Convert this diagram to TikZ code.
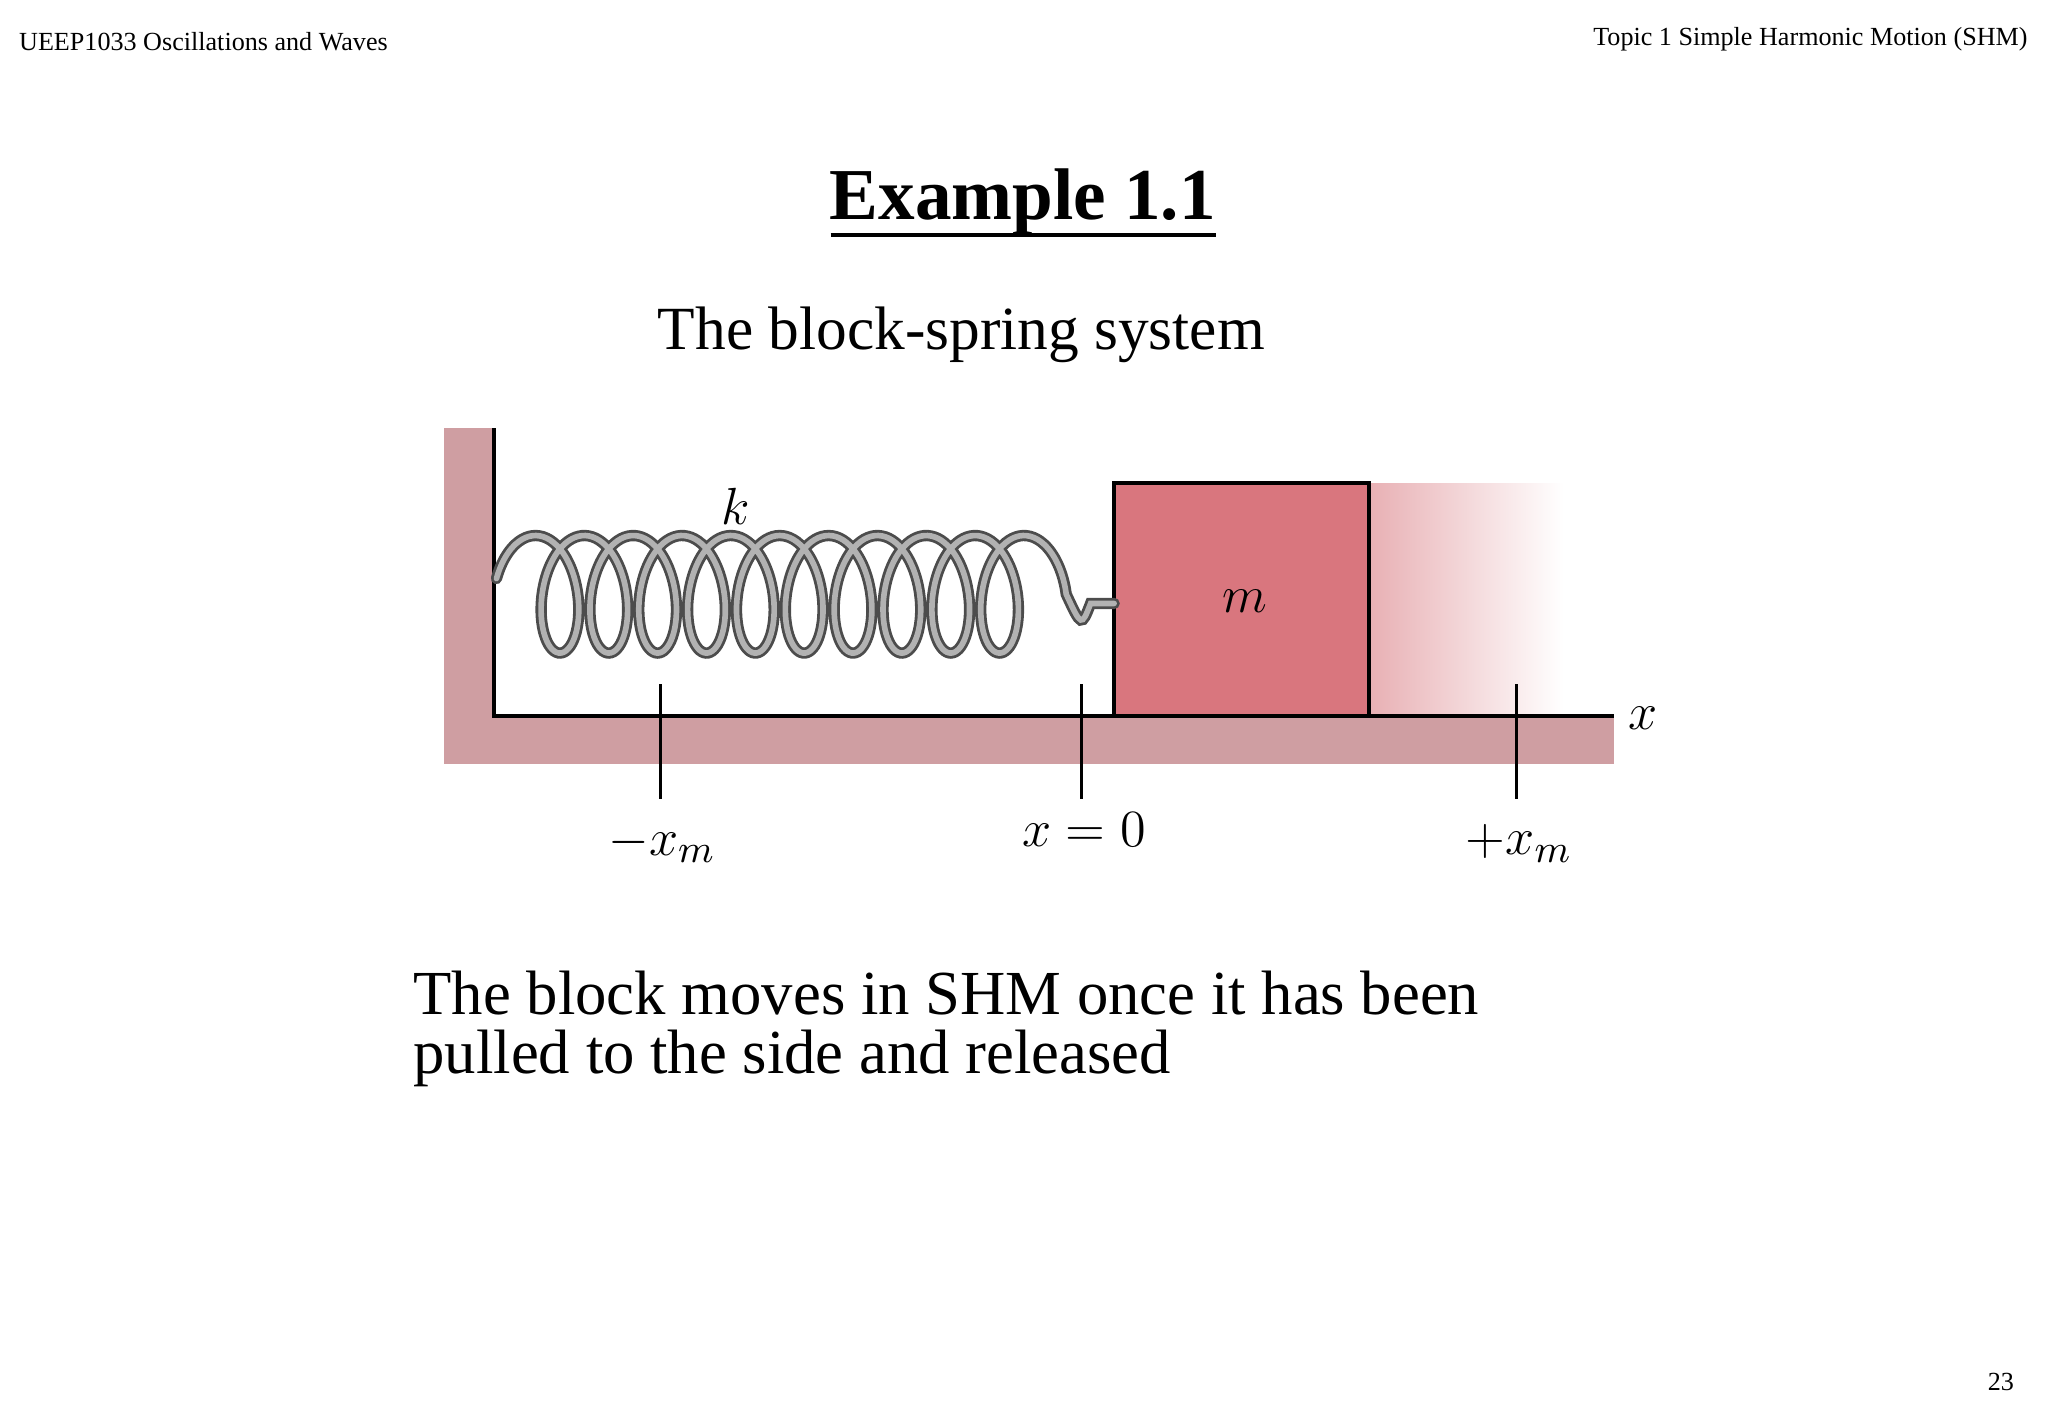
\documentclass[tikz,border=0pt]{standalone}
\usepackage{fontspec}
\setmainfont{Liberation Serif}
\definecolor{wallc}{HTML}{CF9EA2}
\definecolor{blockc}{HTML}{D9767E}
\definecolor{fadec}{HTML}{E8B0B4}
\tikzset{lbl/.style={inner sep=0pt}, tick/.style={line width=0.7pt}}
\begin{document}
\begin{tikzpicture}[x=0.3pt,y=-0.3pt]
\useasboundingbox (0,0) rectangle (1568,1085.6);
% texts
\node[lbl,anchor=west,font=\fontsize{6}{7}\selectfont] (h1) at (14,32) {UEEP1033 Oscillations and Waves};
\node[lbl,anchor=east,font=\fontsize{6}{7}\selectfont] (h2) at (1553,30) {Topic 1 Simple Harmonic Motion (SHM)};
\node[lbl,font=\fontsize{6}{7}\selectfont] (pg) at (1532,1058) {23};
\node[lbl,anchor=base,font=\fontsize{16.8}{19}\selectfont\bfseries] (title) at (783,168) {Example 1.1};
\draw[line width=0.9pt] (636,180) -- (931,180);
\node[lbl,font=\fontsize{14.1}{16}\selectfont] (sub) at (736,256) {The block-spring system};
\node[lbl,anchor=north west,align=left,font=\fontsize{14.4}{13.4}\selectfont] (body) at (316,743) {The block moves in SHM once it has been\\pulled to the side and released};
% wall & floor
\fill[wallc] (340,328) rectangle (378,585);
\fill[wallc] (340,548) rectangle (1236,585);
% fade
\shade[left color=fadec,right color=white] (1048,370) rectangle (1197,548);
\draw[line width=1pt] (378,328) -- (378,548) -- (1236,548);
% block
\node[draw,line width=1pt,fill=blockc,minimum width=58.5pt,minimum height=53.4pt,inner sep=0pt] (blk) at (950.5,459) {};
\node[lbl,font=\fontsize{12}{14}\selectfont] (m) at (953,460) {$m$};
% spring
\coordinate (hook) at (853,462);
\foreach \w/\c in {2.6pt/black!70,1.3pt/black!30}{
\draw[line width=\w,color=\c,line cap=round]
 plot[domain=-1.3:64.403,samples=700,smooth] ({410+37.4*\x/6.2832+23*sin(\x r)},{455-45*cos(\x r)})
 .. controls (828,480) .. (835,462) -- (hook);
}
\node[lbl,font=\fontsize{12}{14}\selectfont] (k) at (563,388) {$k$};
% ticks
\draw[tick] (506,524) -- (506,612);
\draw[tick] (828,524) -- (828,612);
\draw[tick] (1161,524) -- (1161,612);
\node[lbl,font=\fontsize{13}{15}\selectfont] (l1) at (507,646) {$-x_m$};
\node[lbl,font=\fontsize{13}{15}\selectfont] (l2) at (830,635) {$x=0$};
\node[lbl,font=\fontsize{13}{15}\selectfont] (l3) at (1163,646) {$+x_m$};
\node[lbl,font=\fontsize{13}{15}\selectfont] (lx) at (1258,550) {$x$};
\end{tikzpicture}
\end{document}
